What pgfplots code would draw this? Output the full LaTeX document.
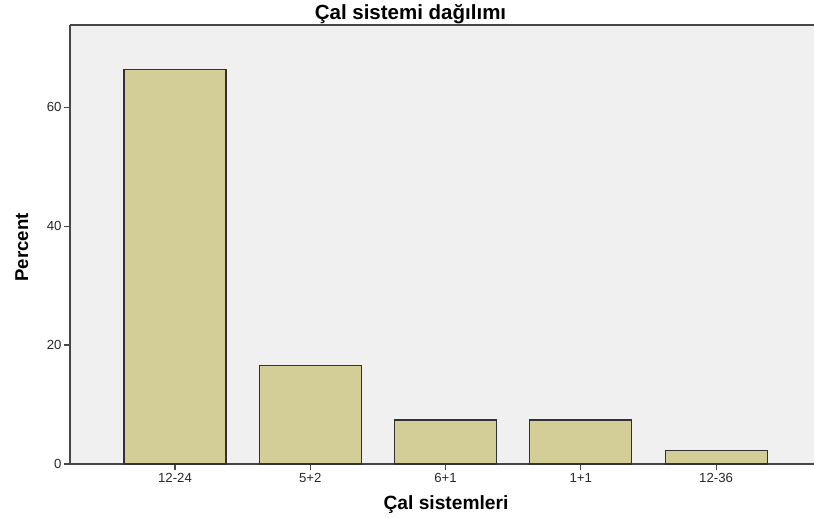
\documentclass[border=0pt]{standalone}
\usepackage{fontspec}
\setmainfont{Liberation Sans}
\usepackage{pgfplots}
\pgfplotsset{compat=1.18}
\definecolor{bgc}{RGB}{240,240,240}
\definecolor{barc}{RGB}{211,206,152}
\definecolor{edgec}{RGB}{50,50,50}
\definecolor{axc}{RGB}{70,70,70}
\definecolor{txtc}{RGB}{40,40,40}
\begin{document}
\begin{tikzpicture}[x=1pt,y=1pt]
\useasboundingbox (0,0) rectangle (814,519);
\begin{axis}[
  at={(70pt,55pt)}, anchor=south west,
  scale only axis, width=744pt, height=439pt,
  xmin=-0.776, xmax=4.724, ymin=0, ymax=73.8,
  axis background/.style={fill=bgc},
  axis x line*=bottom, axis y line*=left,
  axis line style={axc, line width=1.1pt, -},
  xtick={0,1,2,3,4},
  xticklabels={12-24,5+2,6+1,1+1,12-36},
  ytick={0,20,40,60},
  tick align=outside, major tick length=6pt,
  tick style={axc, line width=1.1pt},
  /pgf/number format/assume math mode=true,
  ticklabel style={font=\fontsize{13.2}{13.2}\selectfont, text=txtc},
  xticklabel style={yshift=0pt},
  yticklabel style={xshift=1pt},
  clip=false,
]
\addplot[ybar, bar width=0.754, fill=barc, draw=edgec, line width=1.1pt]
  coordinates {(0,66.3) (1,16.6) (2,7.4) (3,7.4) (4,2.2)};
\draw[axc, line width=1.1pt] (rel axis cs:0,1) -- (rel axis cs:1,1);
\end{axis}
\node[anchor=base, font=\bfseries\fontsize{20.5}{20.5}\selectfont, text=black] at (410.5,499) {Çal sistemi dağılımı};
\node[anchor=base, font=\bfseries\fontsize{19.2}{19.2}\selectfont, text=black] at (446,9) {Çal sistemleri};
\node[anchor=base, font=\bfseries\fontsize{18.6}{18.6}\selectfont, text=black, rotate=90] at (28,271.5) {Percent};
\end{tikzpicture}
\end{document}
